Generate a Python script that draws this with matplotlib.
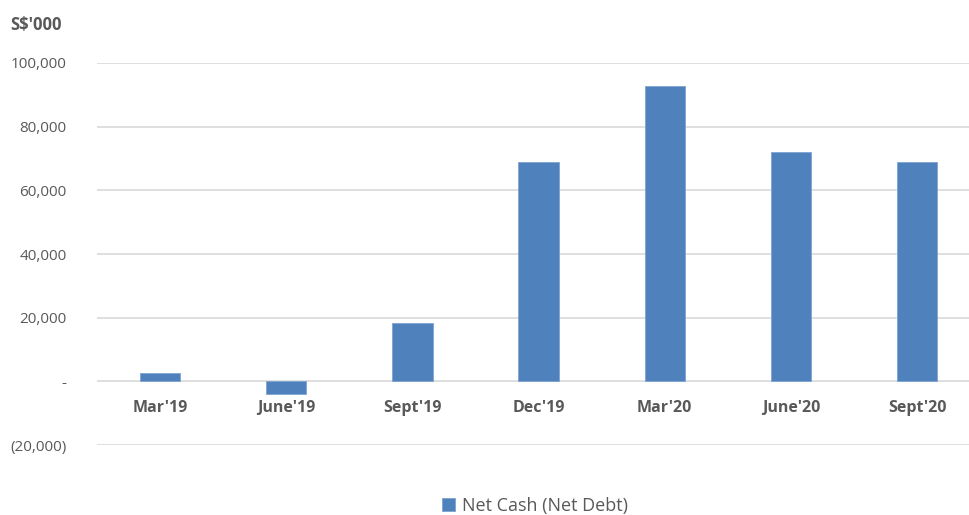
import matplotlib.pyplot as plt
from matplotlib.ticker import FuncFormatter

categories = ["Mar'19", "June'19", "Sept'19", "Dec'19", "Mar'20", "June'20", "Sept'20"]
net_cash = [2500, -4000, 18400, 69000, 92800, 71900, 68900]
y_ticks = [-20000, 0, 20000, 40000, 60000, 80000, 100000]

plt.rcParams['font.family'] = ['Open Sans', 'DejaVu Sans']

fig = plt.figure(figsize=(9.7, 5.15), dpi=100)
ax = fig.add_axes([97 / 970, 70 / 515, 1 - 97 / 970, 382 / 515])

ax.bar(range(len(categories)), net_cash, width=0.32, color='#4F81BD',
       edgecolor='#7EA3D2', linewidth=0.6, label='Net Cash (Net Debt)', zorder=3)

ax.set_ylim(-20000, 100000)
ax.set_xlim(-0.5, 6.42)
ax.set_yticks(y_ticks)

def fmt(v, pos):
    if v == 0:
        return '-'
    if v < 0:
        return f'({abs(v):,.0f})'
    return f'{v:,.0f}'

ax.yaxis.set_major_formatter(FuncFormatter(fmt))
ax.grid(axis='y', color='#D9D9D9', linewidth=1.2, zorder=0)
for s in ax.spines.values():
    s.set_visible(False)
ax.tick_params(axis='y', length=0, pad=22, labelsize=11, labelcolor='#595959')
ax.tick_params(axis='x', length=0)
ax.set_xticks([])

# category labels sit just under the zero line, as in Excel
for i, c in enumerate(categories):
    ax.annotate(c, (i, 0), xytext=(0, -19), textcoords='offset points',
                ha='center', va='center', fontsize=11.5, fontweight='bold', color='#595959')

fig.text(10 / 970, 1 - 25 / 515, "S$'000", fontsize=12, fontweight='bold',
         color='#595959', ha='left', va='center')

leg = fig.legend(loc='center', bbox_to_anchor=(535 / 970, 1 - 506 / 515), frameon=False,
                 fontsize=13, handlelength=0.7, handleheight=0.7, handletextpad=0.4)
for t in leg.get_texts():
    t.set_color('#595959')

fig.savefig('out.png', dpi=100)
